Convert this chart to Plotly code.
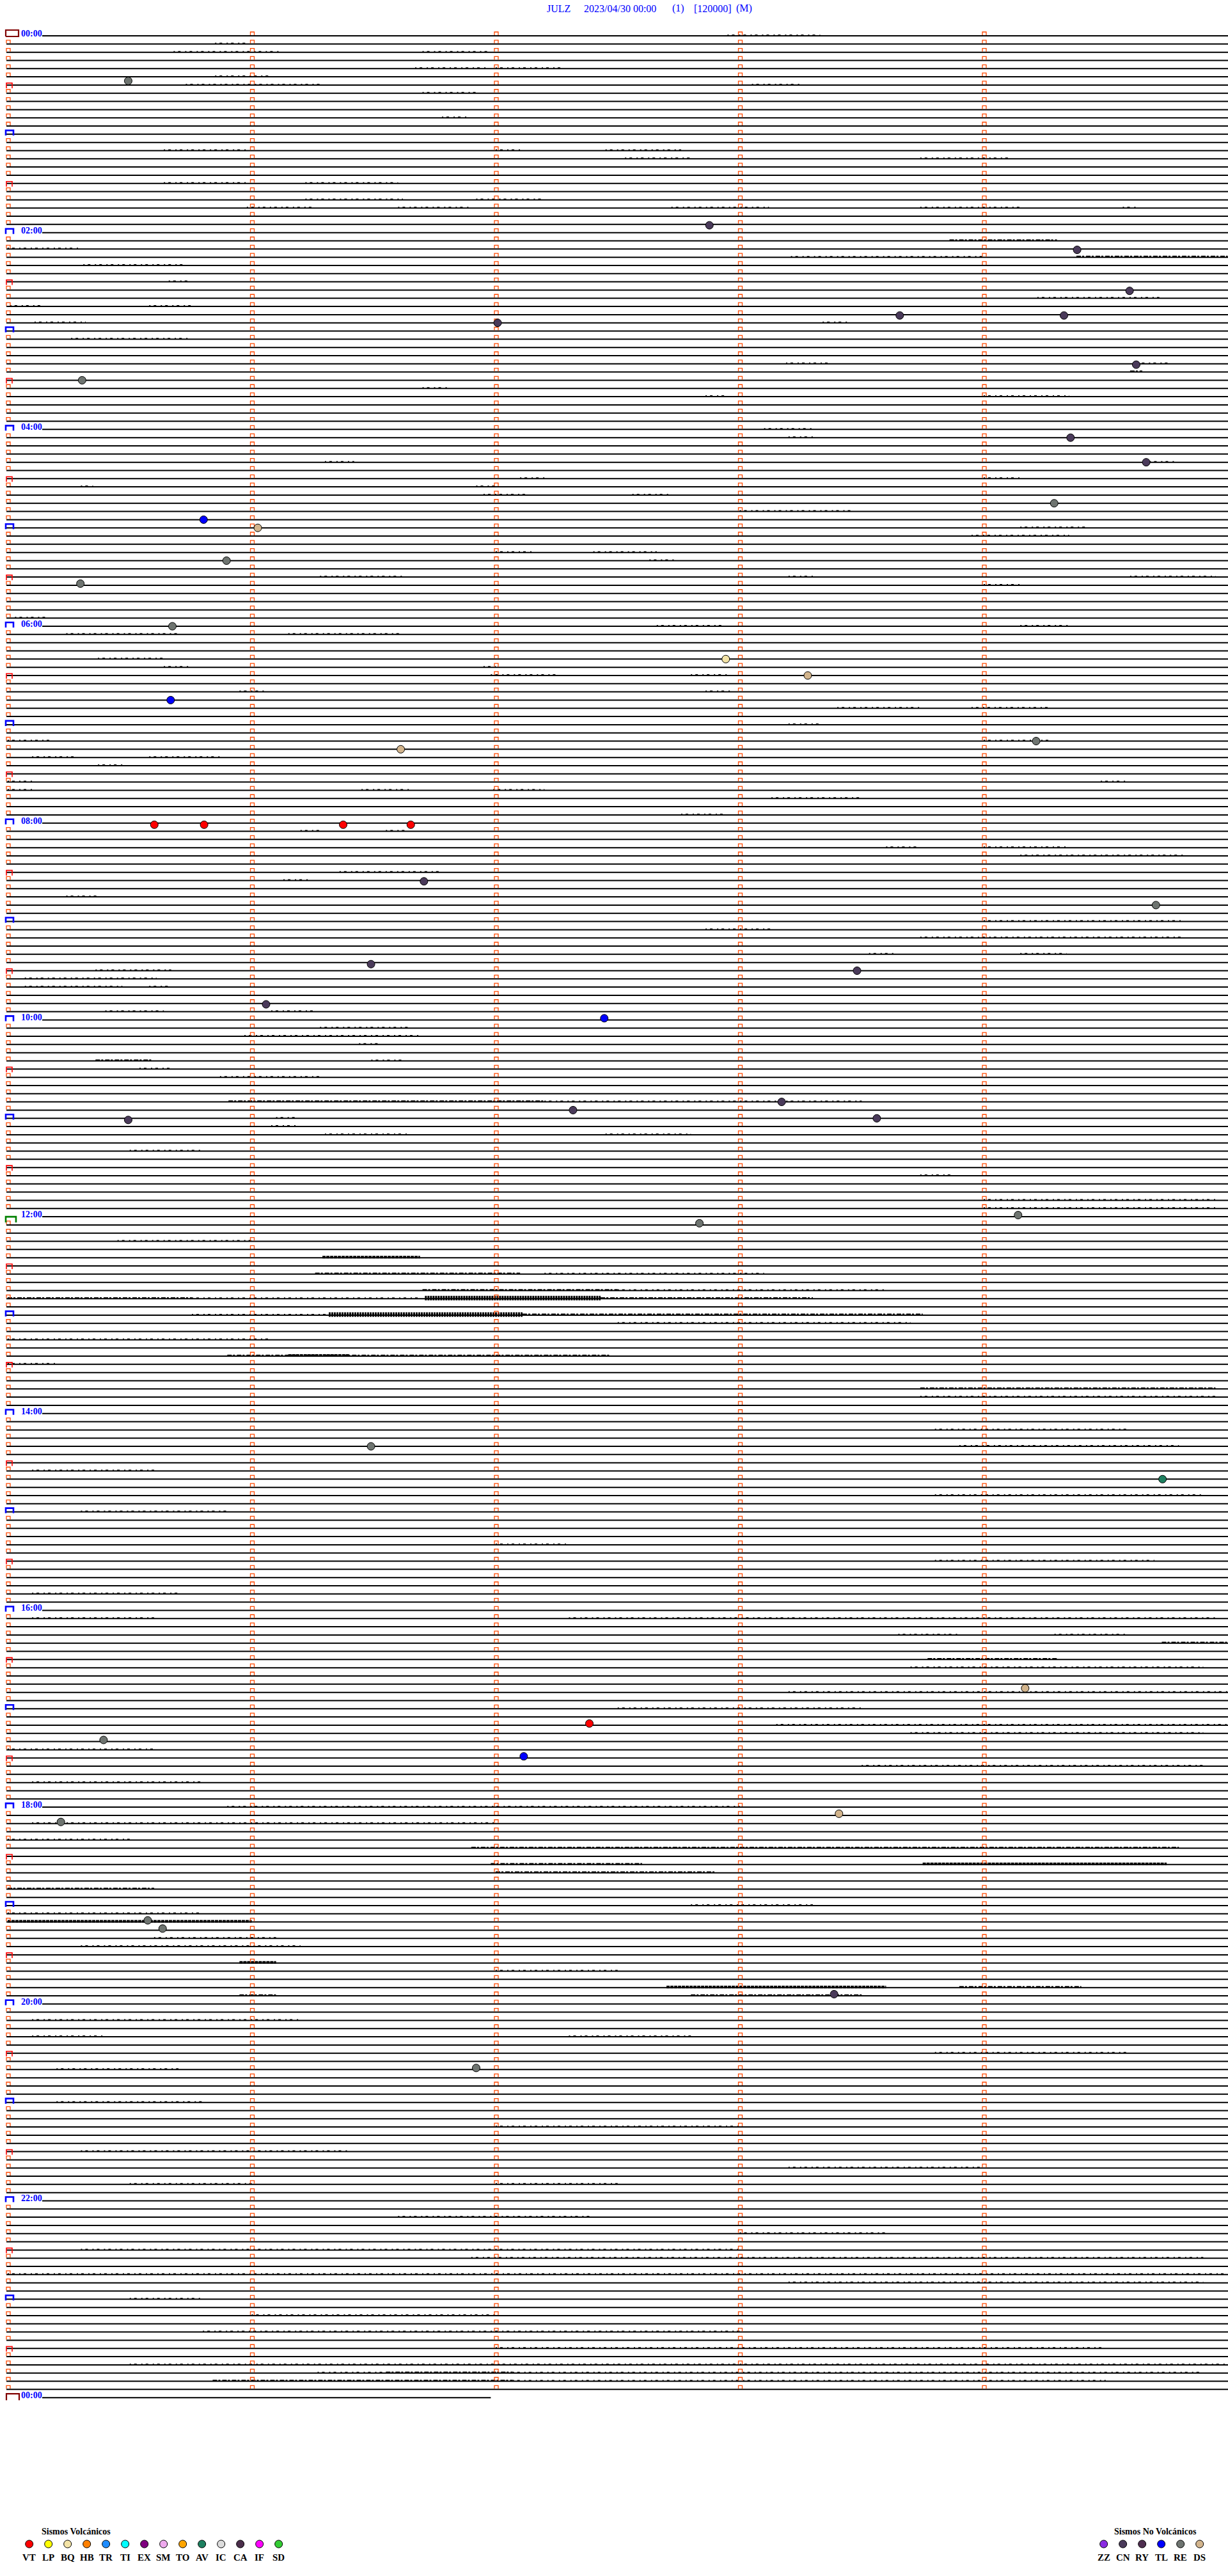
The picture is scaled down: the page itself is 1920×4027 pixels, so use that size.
import plotly.graph_objects as go

# ---------------- data ----------------
title_parts = ["JULZ", "2023/04/30 00:00", "(1)", "[120000]", "(M)"]

minutes_per_line = 5
n_lines = 289                 # 00:00 -> 24:00, one row every 5 minutes
last_line_minutes = 1.98      # final row only partly drawn

hour_label_text = ["00:00", "02:00", "04:00", "06:00", "08:00", "10:00", "12:00",
                   "14:00", "16:00", "18:00", "20:00", "22:00", "00:00"]
hour_label_line = [0, 24, 48, 72, 96, 120, 144, 168, 192, 216, 240, 264, 288]

# events: type, row (5-min line index), minute inside the row
event_type = ["RE", "CN", "CN", "CN", "CN", "CN", "CN", "CN", "RE", "CN",
              "CN", "RE", "TL", "DS", "RE", "RE", "RE", "BQ", "DS", "TL",
              "RE", "DS", "VT", "VT", "VT", "VT", "CN", "RE", "CN", "CN",
              "CN", "TL", "CN", "CN", "CN", "CN", "RE", "RE", "RE", "AV",
              "DS", "VT", "RE", "TL", "DS", "RE", "RE", "RE", "CN", "RE"]
event_line = [5.5, 23.1, 26.1, 31.1, 34.1, 34.1, 35.0, 40.1, 42.0, 49.0,
              52.0, 57.0, 59.0, 60.0, 64.0, 66.8, 72.0, 76.0, 78.0, 81.0,
              86.0, 87.0, 96.2, 96.2, 96.2, 96.2, 103.1, 106.0, 113.2, 114.0,
              118.1, 119.8, 132.2, 131.0, 130.0, 132.0, 144.8, 143.8, 172.0, 176.0,
              201.5, 205.8, 207.8, 209.8, 216.8, 217.8, 229.8, 230.8, 238.8, 247.8]
event_minute = [0.494, 2.876, 4.383, 4.598, 3.656, 4.329, 2.008, 4.625, 0.305, 4.356,
                4.666, 4.289, 0.803, 1.025, 0.897, 0.298, 0.675, 2.943, 3.279, 0.668,
                4.215, 1.611, 0.601, 0.805, 1.375, 1.652, 1.706, 4.706, 1.489, 3.481,
                1.059, 2.445, 0.494, 2.317, 3.172, 3.562, 2.835, 4.141, 1.489, 4.733,
                4.170, 2.384, 0.393, 2.115, 3.407, 0.218, 0.574, 0.635, 3.387, 1.920]

# seismic activity on the rows: row, start minute, end minute, intensity level
noise_line = [0, 1, 2, 2, 4, 4, 5, 6, 6, 7, 10, 14, 14, 14, 15, 15, 18, 18, 20, 20,
              21, 21, 21, 21, 21, 25, 26, 27, 27, 28, 30, 32, 33, 33, 35, 35, 37, 40, 40, 41,
              43, 44, 44, 48, 49, 52, 52, 54, 54, 55, 55, 56, 56, 58, 60, 61, 63, 63, 64, 66,
              66, 66, 67, 71, 72, 72, 73, 73, 76, 77, 77, 78, 78, 80, 80, 82, 82, 84, 86, 86,
              88, 88, 89, 91, 91, 92, 92, 92, 93, 95, 97, 97, 99, 99, 100, 102, 103, 105, 108, 109,
              110, 112, 112, 114, 115, 116, 116, 119, 119, 121, 122, 123, 125, 125, 126, 127, 130, 130, 132, 133,
              134, 134, 136, 139, 142, 143, 147, 149, 151, 151, 153, 153, 154, 154, 154, 154, 156, 156, 156, 157,
              159, 161, 161, 162, 165, 166, 170, 172, 175, 178, 180, 184, 186, 190, 193, 193, 195, 195, 196, 198,
              199, 202, 204, 206, 207, 209, 211, 213, 216, 218, 220, 221, 223, 223, 224, 226, 228, 229, 230, 232,
              233, 235, 236, 238, 238, 239, 239, 242, 244, 244, 246, 248, 252, 255, 258, 260, 262, 262, 266, 268,
              270, 271, 273, 274, 276, 278, 280, 282, 284, 285, 285, 285, 286, 286]
noise_start = [2.95, 0.85, 0.68, 1.70, 1.67, 2.00, 0.85, 0.73, 3.05, 1.70, 1.78, 0.64, 2.00, 2.45, 2.53, 3.74, 0.64, 1.22, 1.22, 1.92,
               0.98, 1.60, 2.72, 3.74, 4.57, 3.86, 0.00, 3.21, 4.38, 0.31, 0.66, 4.22, 0.01, 0.58, 0.11, 3.34, 0.26, 3.19, 4.63, 4.60,
               1.70, 2.86, 4.00, 3.10, 3.20, 1.30, 4.68, 2.10, 4.00, 0.30, 1.92, 1.95, 2.56, 3.00, 4.15, 3.95, 2.00, 2.40, 2.63, 1.28,
               3.20, 4.60, 4.00, 0.03, 2.66, 4.15, 0.24, 1.15, 0.37, 0.64, 1.95, 1.98, 2.80, 0.95, 2.86, 3.40, 3.95, 3.20, 0.00, 4.00,
               0.10, 0.58, 0.37, 0.00, 4.48, 1.45, 0.00, 1.99, 3.13, 2.76, 1.55, 1.20, 3.60, 4.00, 4.15, 1.36, 1.13, 0.24, 4.00, 2.86,
               3.74, 3.53, 4.15, 0.36, 0.07, 0.58, 0.07, 0.40, 1.08, 1.28, 0.97, 1.44, 0.36, 1.49, 0.54, 0.87, 0.905, 2.20, 1.10, 1.08,
               1.30, 2.45, 0.50, 3.74, 4.00, 4.00, 0.45, 1.29, 1.26, 2.20, 1.70, 2.50, 0.00, 0.755, 1.71, 2.43, 0.755, 1.316, 2.11, 2.50,
               0.00, 0.90, 1.15, 0.00, 3.74, 3.74, 3.80, 3.90, 0.10, 3.80, 0.30, 2.00, 3.80, 0.10, 0.10, 2.30, 3.65, 4.29, 4.73, 3.77,
               3.70, 3.20, 2.50, 3.15, 3.70, 0.00, 3.50, 0.10, 0.90, 0.10, 0.00, 1.90, 1.98, 3.75, 2.00, 0.00, 2.80, 0.00, 0.00, 0.60,
               0.30, 0.95, 2.00, 2.70, 3.90, 0.95, 2.80, 0.10, 0.10, 2.30, 3.80, 0.20, 0.20, 2.00, 0.30, 3.20, 0.50, 2.00, 1.60, 3.00,
               0.30, 1.90, 0.00, 3.20, 0.50, 1.00, 0.80, 2.00, 0.50, 1.27, 1.55, 2.07, 0.84, 2.07]
noise_end = [3.33, 0.98, 1.12, 1.98, 1.97, 2.28, 1.07, 1.28, 3.25, 1.93, 1.88, 0.98, 2.10, 2.76, 2.80, 4.10, 0.98, 1.60, 1.62, 2.20,
             1.25, 1.90, 3.12, 4.15, 4.63, 4.30, 0.30, 4.00, 5.00, 0.73, 0.75, 4.72, 0.15, 0.75, 0.32, 3.44, 0.75, 3.36, 4.77, 4.65,
             1.80, 2.95, 4.35, 3.30, 3.30, 1.42, 4.78, 2.20, 4.15, 0.35, 2.00, 2.12, 2.72, 3.47, 4.42, 4.35, 2.15, 2.66, 2.73, 1.62,
             3.30, 4.95, 4.15, 0.17, 2.93, 4.35, 0.71, 1.62, 0.64, 0.74, 2.00, 2.26, 2.96, 1.05, 2.96, 3.74, 4.28, 3.34, 0.17, 4.28,
             0.27, 0.88, 0.47, 0.10, 4.58, 1.65, 0.10, 2.20, 3.50, 2.93, 1.63, 1.28, 3.74, 4.34, 4.82, 1.77, 1.23, 0.37, 4.82, 3.13,
             4.82, 3.64, 4.34, 0.67, 0.61, 0.66, 0.47, 0.64, 1.25, 1.65, 1.69, 1.52, 0.595, 1.62, 0.67, 1.29, 2.20, 3.50, 1.18, 1.18,
             1.64, 2.80, 0.80, 3.88, 4.95, 4.95, 1.00, 1.69, 2.10, 3.10, 2.50, 3.60, 0.755, 1.69, 2.43, 3.30, 1.316, 2.11, 3.75, 3.70,
             1.08, 2.47, 1.40, 0.20, 4.95, 4.95, 4.60, 4.80, 0.60, 4.90, 0.90, 2.30, 4.70, 0.70, 0.60, 4.95, 3.90, 4.58, 5.00, 4.30,
             4.90, 5.00, 3.50, 5.00, 4.90, 0.60, 4.90, 0.80, 3.00, 2.00, 0.50, 4.80, 2.60, 4.75, 2.90, 0.60, 3.30, 0.80, 1.00, 1.10,
             1.20, 1.10, 2.50, 3.60, 4.40, 1.10, 3.50, 1.20, 0.40, 2.80, 4.60, 0.70, 0.80, 3.00, 1.40, 4.00, 1.00, 2.50, 2.40, 3.60,
             3.00, 4.90, 5.00, 4.90, 0.80, 2.00, 3.00, 4.50, 5.00, 1.55, 2.07, 4.90, 2.07, 4.50]
noise_level = [1, 1, 1, 1, 1, 1, 1, 1, 1, 1, 1, 1, 1, 1, 1, 1, 1, 1, 1, 1,
               1, 1, 1, 1, 1, 2, 1, 1, 2, 1, 1, 1, 1, 1, 1, 1, 1, 1, 1, 2,
               1, 1, 1, 1, 1, 1, 1, 1, 1, 1, 1, 1, 1, 1, 1, 1, 1, 1, 1, 1,
               1, 1, 1, 1, 1, 1, 1, 1, 1, 1, 1, 1, 1, 1, 1, 1, 1, 1, 1, 1,
               1, 1, 1, 1, 1, 1, 1, 1, 1, 1, 1, 1, 1, 1, 1, 1, 1, 1, 1, 1,
               1, 1, 1, 1, 1, 1, 1, 1, 1, 1, 1, 1, 2, 1, 1, 1, 2, 1, 1, 1,
               1, 1, 1, 1, 1, 1, 1, 3, 2, 1, 2, 1, 2, 1, 4, 2, 1, 4, 2, 1,
               1, 2, 3, 1, 2, 1, 1, 1, 1, 1, 1, 1, 1, 1, 1, 1, 1, 1, 2, 2,
               1, 1, 1, 1, 1, 1, 1, 1, 1, 1, 1, 2, 2, 3, 2, 2, 1, 1, 3, 1,
               1, 3, 1, 3, 2, 2, 2, 1, 1, 1, 1, 1, 1, 1, 1, 1, 1, 1, 1, 1,
               1, 1, 1, 1, 1, 1, 1, 1, 1, 1, 2, 1, 2, 1]

volc_codes = ["VT", "LP", "BQ", "HB", "TR", "TI", "EX", "SM", "TO", "AV", "IC", "CA", "IF", "SD"]
volc_colors = ["#ff0000", "#ffff00", "#f3e3a6", "#ff8000", "#1e8cff", "#00ffff", "#800080",
               "#eeaaee", "#ffa500", "#1e8060", "#dcdcdc", "#4b2e4b", "#ff00ff", "#33cc33"]
novolc_codes = ["ZZ", "CN", "RY", "TL", "RE", "DS"]
novolc_colors = ["#8a2be2", "#4a3a5a", "#4e2e50", "#0000ff", "#6e7470", "#d2b48c"]

# ---------------- geometry of the page ----------------
W, H = 1920, 4027
X0, PX_MIN = 12.0, 381.5      # pixel of minute 0, pixels per minute
Y0, PX_LINE = 56.0, 12.82     # pixel of row 0, pixels per row
FONT = "Liberation Serif"


def xm(px):
    return (px - X0) / PX_MIN


def yl(py):
    return (py - Y0) / PX_LINE


def dxp(px):
    return px / PX_MIN


def dyp(py):
    return py / PX_LINE


fig = go.Figure()

# ---- rows (base lines) ----
lx, ly = [], []
for i in range(n_lines):
    start = xm(66) if i in hour_label_line else xm(10)
    end = last_line_minutes if i == n_lines - 1 else xm(W)
    lx += [start, end, None]
    ly += [i, i, None]
fig.add_trace(go.Scatter(x=lx, y=ly, mode="lines", line=dict(color="black", width=2),
                         hoverinfo="skip", showlegend=False))

# ---- activity on the rows ----
level_style = {1: (2.0, "2px,5px,4px,7px"), 2: (2.6, "7px,2px,3px,3px"),
               3: (4.0, "5px,1px"), 4: (7.0, "3px,1px")}
for lev, (wd, dash) in level_style.items():
    nx, ny = [], []
    for r, a, b, lv in zip(noise_line, noise_start, noise_end, noise_level):
        if lv == lev:
            nx += [a, b, None]
            ny += [r + dyp(-1), r + dyp(-1), None]
    fig.add_trace(go.Scatter(x=nx, y=ny, mode="lines", line=dict(color="black", width=wd, dash=dash),
                             hoverinfo="skip", showlegend=False))


def cap_path(xs, ys, xc, row, w_px, top_px, bot_px, closed=False):
    xa, xb = xc - dxp(w_px / 2), xc + dxp(w_px / 2)
    yt, yb = row + dyp(top_px), row + dyp(bot_px)
    if closed:
        xs += [xa, xa, xb, xb, xa, None]
        ys += [yb, yt, yt, yb, yb, None]
    else:
        xs += [xa, xa, xb, xb, None]
        ys += [yb, yt, yt, yb, None]


# ---- minute marks (orange) ----
mx, my = [], []
for i in range(n_lines - 1):
    for k in range(minutes_per_line):
        if k == 0 and i % 6 == 0:
            continue
        cap_path(mx, my, k + dxp(1), i, 6, -6, -1)
fig.add_trace(go.Scatter(x=mx, y=my, mode="lines", line=dict(color="#ff4800", width=1.3),
                         hoverinfo="skip", showlegend=False))

# ---- half hour / hour marks on the left ----
hx, hy, rx, ry, gx, gy, dx_, dy_ = [], [], [], [], [], [], [], []
for i in range(n_lines):
    if i == 0:
        cap_path(dx_, dy_, xm(19), i, 20, -9, 1, closed=True)
    elif i == n_lines - 1:
        cap_path(dx_, dy_, xm(20), i, 20, -6, 4)
    elif i == 144:
        cap_path(gx, gy, xm(17), i, 16, 0, 9)
    elif i % 12 == 0:
        cap_path(hx, hy, xm(15), i, 12, -6, 2)
    elif i % 6 == 0:
        cap_path(rx, ry, xm(14.5), i, 9, -3, 5)
for xs, ys, col, wd in [(hx, hy, "#0000ff", 2.6), (rx, ry, "#ff0000", 1.6),
                        (gx, gy, "#008000", 2.6), (dx_, dy_, "#800000", 2.2)]:
    fig.add_trace(go.Scatter(x=xs, y=ys, mode="lines", line=dict(color=col, width=wd),
                             hoverinfo="skip", showlegend=False))

# ---- events ----
color_of = dict(zip(volc_codes + novolc_codes, volc_colors + novolc_colors))
for code in volc_codes + novolc_codes:
    ex = [m for t, m in zip(event_type, event_minute) if t == code]
    ey = [r for t, r in zip(event_type, event_line) if t == code]
    if not ex:
        continue
    fig.add_trace(go.Scatter(x=ex, y=ey, mode="markers", name=code,
                             marker=dict(size=12, color=color_of[code], symbol="circle",
                                         line=dict(color="black", width=1)),
                             showlegend=False))

# ---- hour labels ----
for txt, row in zip(hour_label_text, hour_label_line):
    fig.add_annotation(x=xm(31), y=row + dyp(-3.5), text=txt, showarrow=False,
                       xanchor="left", yanchor="middle",
                       font=dict(family=FONT, size=14, color="#0000ff", weight="bold"))

# ---- title ----
for part, px in zip(title_parts, [853, 911, 1049, 1083, 1149]):
    fig.add_annotation(x=xm(px), y=yl(13), text=part, showarrow=False, xanchor="left",
                       yanchor="middle", font=dict(family=FONT, size=16, color="#0000ff"))


# ---- legends ----
def legend_block(codes, colors, x_first, title, title_x, title_anchor):
    xs = [xm(x_first + 30 * k) for k in range(len(codes))]
    fig.add_trace(go.Scatter(x=xs, y=[yl(3977)] * len(codes), mode="markers",
                             marker=dict(size=12, color=colors, line=dict(color="black", width=1)),
                             hoverinfo="skip", showlegend=False))
    for c, xx in zip(codes, xs):
        fig.add_annotation(x=xx, y=yl(3998), text=c, showarrow=False, xanchor="center",
                           yanchor="middle", font=dict(family=FONT, size=15, color="black", weight="bold"))
    fig.add_annotation(x=xm(title_x), y=yl(3957), text=title, showarrow=False, xanchor=title_anchor,
                       yanchor="middle", font=dict(family=FONT, size=14, color="black", weight="bold"))


legend_block(volc_codes, volc_colors, 45.7, "Sismos Volcánicos", 63, "left")
legend_block(novolc_codes, novolc_colors, 1725.7, "Sismos No Volcánicos", 1806, "center")

fig.update_layout(
    width=W, height=H, autosize=False,
    margin=dict(l=0, r=0, t=0, b=0),
    paper_bgcolor="white", plot_bgcolor="white",
    xaxis=dict(range=[xm(0), xm(W)], visible=False, fixedrange=True),
    yaxis=dict(range=[yl(H), yl(0)], visible=False, fixedrange=True),
)

fig.write_html("out.html", config={"displayModeBar": False},
               post_script="document.body.style.margin='0';")
